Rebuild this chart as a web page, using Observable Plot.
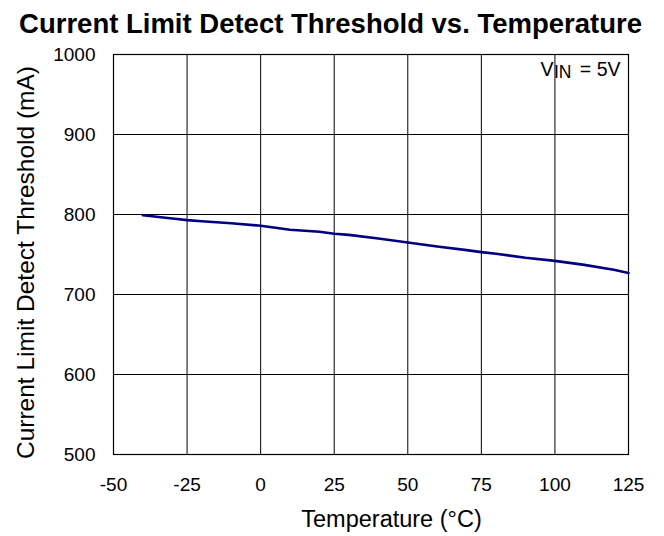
<!DOCTYPE html>
<html>
<head>
<meta charset="utf-8">
<script src="https://cdn.jsdelivr.net/npm/d3@7"></script>
<script src="https://cdn.jsdelivr.net/npm/@observablehq/plot@0.6"></script>
<style>
  html, body { margin: 0; padding: 0; background: #fff; }
  svg { font-family: "Liberation Sans", Arial, sans-serif; }
</style>
</head>
<body>
<div id="chart"></div>
<script>
const titleText = "Current Limit Detect Threshold vs. Temperature";
const xLabel = "Temperature (\u00B0C)";
const yLabel = "Current Limit Detect Threshold (mA)";
const xTicks = [-50, -25, 0, 25, 50, 75, 100, 125];
const yTicks = [500, 600, 700, 800, 900, 1000];
const temperature = [-40, -30, -25, -20, -10, 0, 10, 20, 25, 30, 40, 50, 60, 70, 75, 80, 90, 100, 110, 120, 125];
const threshold   = [799, 795, 793, 791.5, 789, 786, 781, 778.5, 776, 774.5, 770, 765, 760, 755.5, 753, 751, 746, 742, 737, 731, 727];

const data = temperature.map((t, i) => ({t, v: threshold[i]}));

const font = "Liberation Sans, Arial, sans-serif";

const chart = Plot.plot({
  width: 664,
  height: 536,
  marginLeft: 113,
  marginRight: 36,
  marginTop: 54,
  marginBottom: 82,
  style: {fontFamily: font, color: "#000", background: "#fff"},
  x: {domain: [-50, 125]},
  y: {domain: [500, 1000]},
  marks: [
    Plot.gridX(xTicks, {stroke: "#000", strokeOpacity: 1, strokeWidth: 1}),
    Plot.gridY(yTicks, {stroke: "#000", strokeOpacity: 1, strokeWidth: 1}),
    Plot.frame({stroke: "#000", strokeWidth: 1.2}),
    Plot.axisX({ticks: xTicks, tickSize: 0, tickPadding: 23, fontSize: 19, label: null, tickFormat: d => String(d)}),
    Plot.axisY({ticks: yTicks, tickSize: 0, tickPadding: 18, fontSize: 19, label: null, tickFormat: d => String(d)}),
    Plot.line(data, {x: "t", y: "v", stroke: "#000080", strokeWidth: 2.6}),
    // title
    Plot.text([titleText], {frameAnchor: "top", text: d => d, lineAnchor: "bottom", dy: -22, dx: -40.5, fontSize: 27.5, fontWeight: "bold", fill: "#000"}),
    // x label
    Plot.text([xLabel], {frameAnchor: "bottom", text: d => d, lineAnchor: "bottom", dy: 72.5, dx: 20.5, fontSize: 23.5, fill: "#000"}),
    // y label
    Plot.text([yLabel], {frameAnchor: "left", text: d => d, rotate: -90, textAnchor: "middle", lineAnchor: "bottom", dx: -80, dy: 8, fontSize: 24.5, fill: "#000"}),
    // annotation V_IN = 5V
    Plot.text(["V"], {frameAnchor: "top-right", text: d => d, textAnchor: "end", lineAnchor: "bottom", dx: -75, dy: 21, fontSize: 19.5, fill: "#000"}),
    Plot.text(["IN"], {frameAnchor: "top-right", text: d => d, textAnchor: "end", lineAnchor: "bottom", dx: -57, dy: 23, fontSize: 17.5, fill: "#000"}),
    Plot.text(["= 5V"], {frameAnchor: "top-right", text: d => d, textAnchor: "end", lineAnchor: "bottom", dx: -8, dy: 21, fontSize: 19.5, fill: "#000"})
  ]
});

document.getElementById("chart").appendChild(chart);
</script>
</body>
</html>
